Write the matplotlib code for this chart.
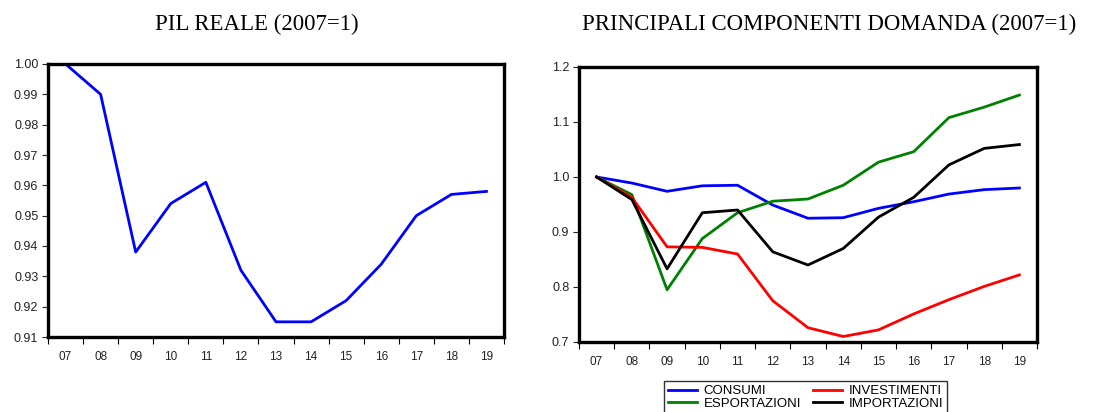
import numpy as np
import matplotlib.pyplot as plt
from matplotlib.ticker import FixedLocator, FixedFormatter

years = ['07', '08', '09', '10', '11', '12', '13', '14', '15', '16', '17', '18', '19']

pil = [1.000, 0.990, 0.938, 0.954, 0.961, 0.932, 0.915, 0.915, 0.922, 0.934, 0.950, 0.957, 0.958]

consumi = [1.000, 0.989, 0.974, 0.984, 0.985, 0.949, 0.925, 0.926, 0.943, 0.955, 0.969, 0.977, 0.980]
investimenti = [1.000, 0.963, 0.873, 0.872, 0.860, 0.775, 0.726, 0.710, 0.722, 0.751, 0.777, 0.801, 0.822]
esportazioni = [1.000, 0.968, 0.795, 0.888, 0.935, 0.956, 0.960, 0.985, 1.027, 1.046, 1.108, 1.127, 1.149]
importazioni = [1.000, 0.959, 0.833, 0.935, 0.940, 0.864, 0.840, 0.870, 0.927, 0.963, 1.022, 1.052, 1.059]

plt.rcParams['font.family'] = ['Liberation Sans', 'DejaVu Sans']

fig = plt.figure(figsize=(11.06, 4.12), dpi=100)
W, H = 1106, 412

def make_axes(left, top, right, bottom):
    return fig.add_axes([left / W, 1 - bottom / H, (right - left) / W, (bottom - top) / H])

def style(ax, yticks, yfmt):
    x = np.arange(len(years))
    ax.set_xlim(-0.5, len(years) - 0.5)
    ax.set_ylim(yticks[0], yticks[-1])
    ax.xaxis.set_major_locator(FixedLocator(x))
    ax.xaxis.set_major_formatter(FixedFormatter(years))
    ax.xaxis.set_minor_locator(FixedLocator(np.arange(len(years) + 1) - 0.5))
    ax.tick_params(axis='x', which='major', length=0, pad=10, labelsize=8.5, colors='#222222')
    ax.tick_params(axis='x', which='minor', length=5, width=0.8, direction='out')
    ax.set_yticks(yticks)
    ax.set_yticklabels([yfmt % v for v in yticks])
    ax.tick_params(axis='y', length=4, width=0.8, direction='out', pad=3, labelsize=9, colors='#222222')
    for sp in ax.spines.values():
        sp.set_linewidth(2.4)

x = np.arange(len(years))

ax1 = make_axes(48, 64, 504, 337)
ax1.plot(x, pil, color='#0000ff', lw=2)
style(ax1, np.round(np.arange(0.91, 1.0001, 0.01), 2), '%.2f')
fig.text(257 / W, 1 - 24 / H, 'PIL REALE (2007=1)', ha='center', va='center',
         fontsize=16.5, family='Liberation Serif')

ax2 = make_axes(579, 67, 1037, 342)
ax2.plot(x, consumi, color='#0000ff', lw=2, label='CONSUMI')
ax2.plot(x, esportazioni, color='#008000', lw=2, label='ESPORTAZIONI')
ax2.plot(x, investimenti, color='#ff0000', lw=2, label='INVESTIMENTI')
ax2.plot(x, importazioni, color='#000000', lw=2, label='IMPORTAZIONI')
style(ax2, np.round(np.arange(0.7, 1.2001, 0.1), 1), '%.1f')
fig.text(829 / W, 1 - 24 / H, 'PRINCIPALI COMPONENTI DOMANDA (2007=1)', ha='center', va='center',
         fontsize=16.5, family='Liberation Serif')

leg = ax2.legend(loc='upper left', bbox_to_anchor=((664 - 579) / 458, -(381 - 342) / 275), ncol=2,
                 frameon=True, fancybox=False, edgecolor='black', fontsize=9.5,
                 handlelength=2.2, columnspacing=0.9, borderpad=0.3, labelspacing=0.05,
                 handletextpad=0.5, borderaxespad=0)
leg.get_frame().set_linewidth(1.0)

fig.savefig('out.png', dpi=100)
